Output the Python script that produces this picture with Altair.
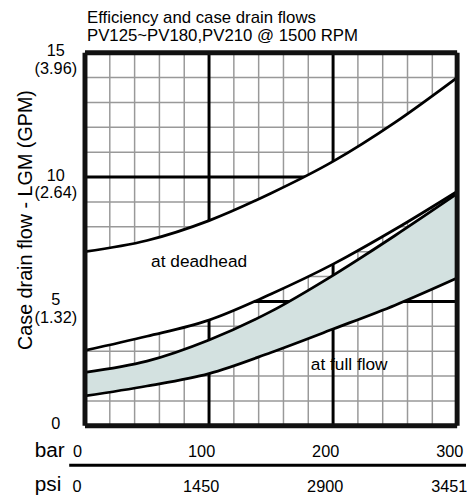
import altair as alt
import pandas as pd

# ---- data ----
bar = [0, 50, 100, 150, 200, 250, 300]
deadhead_upper = [7.0, 7.45, 8.25, 9.35, 10.63, 12.2, 14.0]
deadhead_lower = [3.03, 3.6, 4.25, 5.3, 6.5, 7.9, 9.42]
fullflow_upper = [2.15, 2.6, 3.45, 4.6, 6.05, 7.65, 9.33]
fullflow_lower = [1.2, 1.6, 2.1, 2.95, 3.89, 4.85, 5.94]

x_minor = list(range(0, 301, 20))
y_minor = list(range(0, 16))
x_major = [100, 200]
y_major = [5, 10]
x_frame = [0.0, 300.0]
y_frame = [0.0, 15.0]

x_ticks = [0, 100, 200, 300]
psi_labels = ["0", "1450", "2900", "3451"]
y_ticks = [0, 5, 10, 15]
y_lgm = ["0", "5", "10", "15"]
y_gpm = ["", "(1.32)", "(2.64)", "(3.96)"]

title_lines = ["Efficiency and case drain flows", "PV125~PV180,PV210 @ 1500 RPM"]
notes_text = ["at deadhead", "at full flow"]
notes_bar = [92, 213]
notes_lgm = [6.6, 2.45]

FONT = "Liberation Sans"
TEAL = "#d3e1e0"
W, H = 377, 378

df = pd.DataFrame({"bar": bar, "c1": deadhead_upper, "c2": deadhead_lower,
                   "c3": fullflow_upper, "c4": fullflow_lower})

xs = alt.Scale(domain=[0, 300], nice=False, zero=False)
ys = alt.Scale(domain=[0, 15], nice=False, zero=False)

ylab_expr = " : ".join(
    f"datum.value == {v} ? ['{a}', '{b}']" for v, a, b in zip(y_ticks, y_lgm, y_gpm)
) + " : ''"

x_axis = alt.Axis(values=x_ticks, grid=False, ticks=False, tickSize=0, domain=False,
                  labelFontSize=16.5, labelPadding=18, labelOffset=-8, labelFlush=False,
                  labelColor="black", labelFont=FONT,
                  title="bar", titleFontSize=21, titleFontWeight="normal", titleColor="black",
                  titleFont=FONT, titleX=-21, titleY=31, titleAlign="right",
                  titleBaseline="alphabetic", titleAngle=0)
y_axis = alt.Axis(values=y_ticks, grid=False, ticks=False, tickSize=0, domain=False,
                  labelExpr=ylab_expr, labelAlign="center", labelBaseline="middle",
                  labelPadding=30, labelLineHeight=18, labelOffset=-2,
                  labelFontSize=16.5, labelColor="black", labelFont=FONT,
                  title="Case drain flow - LGM (GPM)", titleFontSize=20,
                  titleFontWeight="normal", titleColor="black", titleFont=FONT,
                  titleX=-54, titleY=169, titleAlign="center",
                  titleBaseline="alphabetic", titleAngle=270)


def X(field):
    return alt.X(field, type="quantitative", scale=xs, axis=x_axis)


def Y(field):
    return alt.Y(field, type="quantitative", scale=ys, axis=y_axis)


minor_x = alt.Chart(pd.DataFrame({"v": x_minor})).mark_rule(
    color="#999999", strokeWidth=1.5).encode(x=X("v"))
minor_y = alt.Chart(pd.DataFrame({"v": y_minor})).mark_rule(
    color="#999999", strokeWidth=1.5).encode(y=Y("v"))
major_x = alt.Chart(pd.DataFrame({"v": x_major})).mark_rule(
    color="black", strokeWidth=3).encode(x=X("v"))
major_y = alt.Chart(pd.DataFrame({"v": y_major})).mark_rule(
    color="black", strokeWidth=3).encode(y=Y("v"))

white_band = alt.Chart(df).mark_area(color="white", opacity=1, interpolate="monotone").encode(
    x=X("bar"), y=Y("c1"), y2="c2:Q")
teal_band = alt.Chart(df).mark_area(color=TEAL, opacity=1, interpolate="monotone").encode(
    x=X("bar"), y=Y("c3"), y2="c4:Q")

curves = alt.Chart(df).transform_fold(["c1", "c2", "c3", "c4"], as_=["curve", "lgm"]).mark_line(
    color="black", strokeWidth=2.8, interpolate="monotone").encode(
    x=X("bar"), y=Y("lgm"), detail="curve:N")

# plot border, drawn on top of the bands (wider stroke so it survives edge clipping)
frame_x = alt.Chart(pd.DataFrame({"v": x_frame})).mark_rule(
    color="#111111", strokeWidth=5).encode(x=X("v"))
frame_y = alt.Chart(pd.DataFrame({"v": y_frame})).mark_rule(
    color="#111111", strokeWidth=5).encode(y=Y("v"))

notes = alt.Chart(pd.DataFrame({"bar": notes_bar, "lgm": notes_lgm, "t": notes_text})).mark_text(
    fontSize=17.5, font=FONT, color="black", align="center", baseline="middle").encode(
    x=X("bar"), y=Y("lgm"), text="t:N")

sep = alt.Chart(pd.DataFrame({"v": [0]})).mark_rule(color="black", strokeWidth=3).encode(
    x=alt.value(-16), x2=alt.value(386), y=alt.value(418))

psi = alt.Chart(pd.DataFrame({"bar": x_ticks, "t": psi_labels})).mark_text(
    fontSize=16.5, font=FONT, color="black", align="center", baseline="middle", dx=-8).encode(
    x=X("bar"), y=alt.value(440), text="t:N")

psi_unit = alt.Chart(pd.DataFrame({"t": ["psi"]})).mark_text(
    fontSize=21, font=FONT, color="black", align="right", baseline="alphabetic").encode(
    x=alt.value(-24), y=alt.value(444), text="t:N")

title_layers = []
for i, line in enumerate(title_lines):
    title_layers.append(
        alt.Chart(pd.DataFrame({"t": [line]})).mark_text(
            fontSize=17, font=FONT, color="black", align="left", baseline="alphabetic").encode(
            x=alt.value(2), y=alt.value(-30 + 18 * i), text="t:N"))

chart = alt.layer(
    minor_x, minor_y, major_x, major_y, white_band, teal_band, curves,
    frame_x, frame_y, notes, sep, psi, psi_unit, *title_layers
).properties(
    width=W, height=H,
    padding={"left": 78, "top": 42, "right": 10, "bottom": 80},
    autosize=alt.AutoSizeParams(type="none"),
    background="white",
).configure(font=FONT).configure_view(stroke=None)

chart.save("out.html", embed_options={"renderer": "svg", "actions": False})
